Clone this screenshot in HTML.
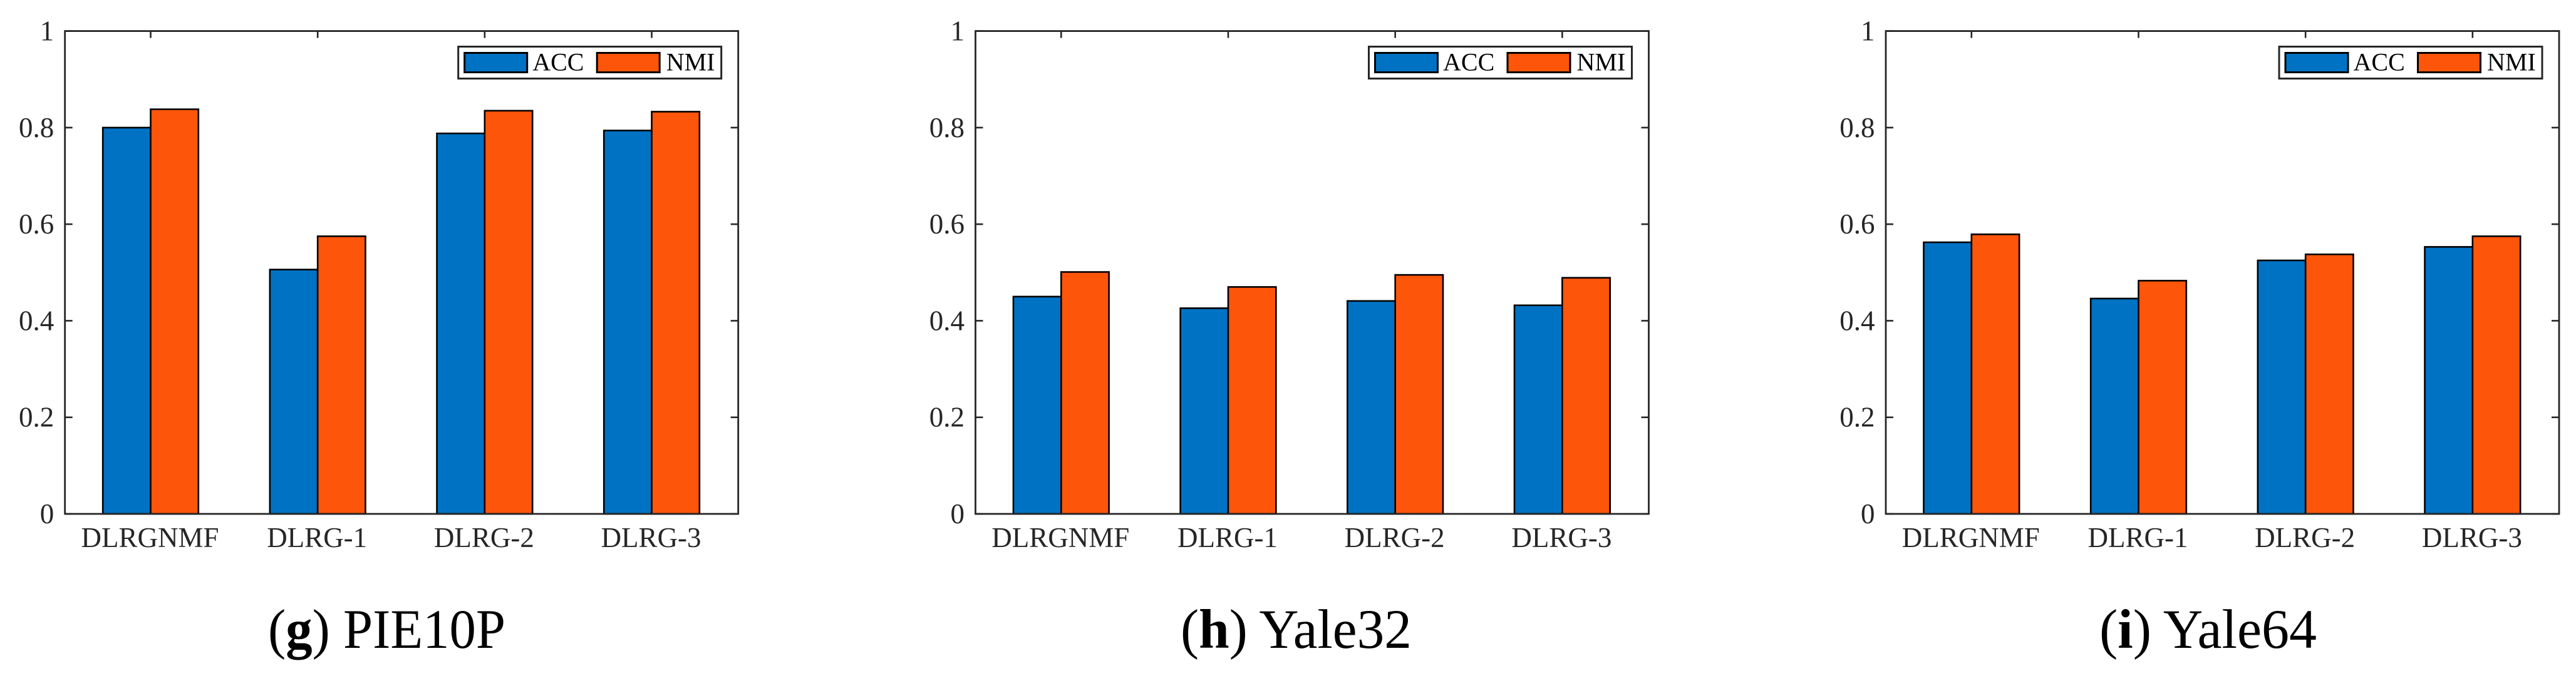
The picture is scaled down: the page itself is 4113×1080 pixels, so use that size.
<!DOCTYPE html>
<html lang="en">
<head>
<meta charset="utf-8">
<title>Clustering ACC and NMI bar charts</title>
<style>
  html, body { margin: 0; padding: 0; background: #ffffff; }
  body { width: 4113px; height: 1080px; overflow: hidden; }
  svg { display: block; }
  text { font-family: "Liberation Serif", "Times New Roman", serif; }
</style>
</head>
<body>
<svg id="figure" xmlns="http://www.w3.org/2000/svg" width="4113" height="1080" viewBox="0 0 4113 1080"></svg>
<script>
const categories = ['DLRGNMF', 'DLRG-1', 'DLRG-2', 'DLRG-3'];
const seriesNames = ['ACC', 'NMI'];
const yTickValues = [0, 0.2, 0.4, 0.6, 0.8, 1];
const yTickLabels = ['0', '0.2', '0.4', '0.6', '0.8', '1'];

const pie10pAcc = [0.800, 0.506, 0.788, 0.794];
const pie10pNmi = [0.838, 0.575, 0.835, 0.833];
const yale32Acc = [0.450, 0.426, 0.441, 0.432];
const yale32Nmi = [0.501, 0.470, 0.495, 0.489];
const yale64Acc = [0.5625, 0.446, 0.525, 0.553];
const yale64Nmi = [0.579, 0.483, 0.5375, 0.575];

const COLORS = ['#0072c3', '#fd550a'];
const AXIS = '#262626';
const svg = document.getElementById('figure');
const NS = 'http://www.w3.org/2000/svg';

function shape(parent, tag, name) {
  const el = document.createElementNS(NS, tag);
  
  
  parent.appendChild(el);
  return el;
}
function setAll(el, props) {
  for (const k in props) el.setAttribute(k, props[k]);
  return el;
}

function drawPanel(panelName, left, accValues, nmiValues, letter, title, capX, capLen) {
  const right = left + 1075, top = 49.6, bottom = 821;
  const xMin = 0.487, xMax = 4.518;
  const xScale = v => left + (v - xMin) / (xMax - xMin) * (right - left);
  const yScale = v => bottom - v * (bottom - top);

  const g = shape(svg, 'g', panelName + '-chart');

  const bg = shape(g, 'rect', panelName + '-plot-area');
  setAll(bg, {x: left, y: top, width: right - left, height: bottom - top, fill: '#ffffff'});

  // ticks
  yTickValues.forEach((v, i) => {
    const y = yScale(v);
    [[left, left + 12], [right, right - 12]].forEach((pair, side) => {
      const t = shape(g, 'line', panelName + '-y-tick-' + (side ? 'right-' : 'left-') + i);
      setAll(t, {x1: pair[0], x2: pair[1], y1: y, y2: y, stroke: AXIS, 'stroke-width': 2.6});
    });
    const lab = shape(g, 'text', panelName + '-y-tick-label-' + i);
    setAll(lab, {x: left - 17.5, y: y + 15, 'text-anchor': 'end', 'font-size': 45, fill: AXIS});
    lab.textContent = yTickLabels[i];
  });
  categories.forEach((c, i) => {
    const x = xScale(i + 1);
    [[top, top + 11], [bottom, bottom - 11]].forEach((pair, side) => {
      const t = shape(g, 'line', panelName + '-x-tick-' + (side ? 'bottom-' : 'top-') + i);
      setAll(t, {x1: x, x2: x, y1: pair[0], y2: pair[1], stroke: AXIS, 'stroke-width': 2.6});
    });
    const lab = shape(g, 'text', panelName + '-x-label-' + c.toLowerCase());
    setAll(lab, {x: x - 1, y: 874, 'text-anchor': 'middle', 'font-size': 45, fill: AXIS});
    lab.textContent = c;
  });

  // bars
  const barW = 0.2862;
  [accValues, nmiValues].forEach((vals, s) => {
    vals.forEach((v, i) => {
      const x0 = xScale(i + 1 + (s === 0 ? -barW : 0));
      const x1 = xScale(i + 1 + (s === 0 ? 0 : barW));
      const b = shape(g, 'rect', panelName + '-bar-' + seriesNames[s].toLowerCase() + '-' + categories[i].toLowerCase());
      setAll(b, {x: x0, y: yScale(v), width: x1 - x0, height: bottom - yScale(v),
        fill: COLORS[s], stroke: '#000000', 'stroke-width': 2.6});
    });
  });

  // axes box
  const box = shape(g, 'rect', panelName + '-axes-box');
  setAll(box, {x: left, y: top, width: right - left, height: bottom - top, fill: 'none', stroke: AXIS, 'stroke-width': 2.8});

  // legend
  const lg = shape(g, 'g', panelName + '-legend');
  const lb = shape(lg, 'rect', panelName + '-legend-box');
  setAll(lb, {x: right - 447, y: 74.5, width: 420, height: 51, fill: '#ffffff', stroke: AXIS, 'stroke-width': 3});
  const swX = [right - 437, right - 225.5];
  const txX = [right - 328.5, right - 115];
  seriesNames.forEach((n, s) => {
    const sw = shape(lg, 'rect', panelName + '-legend-swatch-' + n.toLowerCase());
    setAll(sw, {x: swX[s], y: 84.5, width: 100, height: 31, fill: COLORS[s], stroke: '#000000', 'stroke-width': 3});
    const tx = shape(lg, 'text', panelName + '-legend-label-' + n.toLowerCase());
    setAll(tx, {x: txX[s], y: 112.7, 'font-size': 40, fill: '#000000'});
    tx.textContent = n;
  });

  // caption
  const cap = shape(g, 'text', panelName + '-caption');
  setAll(cap, {x: capX, y: 1035, 'font-size': 89, fill: '#000000', textLength: capLen, lengthAdjust: 'spacingAndGlyphs'});
  const open = shape(cap, 'tspan', panelName + '-caption-open');
  open.textContent = '(';
  const bold = shape(cap, 'tspan', panelName + '-caption-letter');
  bold.setAttribute('font-weight', 'bold');
  bold.textContent = letter;
  const rest = shape(cap, 'tspan', panelName + '-caption-title');
  rest.textContent = ') ' + title;
}

drawPanel('pie10p', 103.7, pie10pAcc, pie10pNmi, 'g', 'PIE10P', 428, 379);
drawPanel('yale32', 1557.5, yale32Acc, yale32Nmi, 'h', 'Yale32', 1885, 369);
drawPanel('yale64', 3011, yale64Acc, yale64Nmi, 'i', 'Yale64', 3352, 347);
</script>
</body>
</html>
